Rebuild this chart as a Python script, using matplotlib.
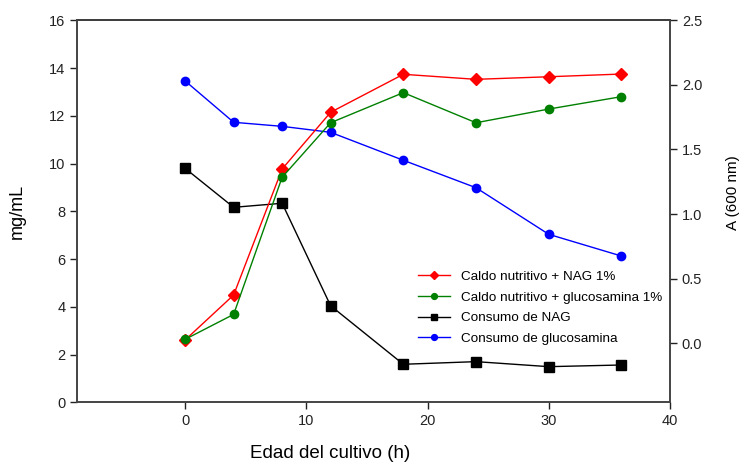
import numpy as np
import matplotlib
matplotlib.use("Agg")
import matplotlib.pyplot as plt

plt.rcParams['font.family'] = ['Liberation Sans', 'DejaVu Sans']

# tiempo de cultivo (h)
horas = [0, 4, 8, 12, 18, 24, 30, 36]

# crecimiento, A (600 nm) - eje derecho
nag_abs = [0.026, 0.374, 1.349, 1.788, 2.082, 2.043, 2.063, 2.084]
gluc_abs = [0.031, 0.224, 1.285, 1.707, 1.940, 1.707, 1.813, 1.909]

# consumo, mg/mL - eje izquierdo
consumo_nag = [9.80, 8.17, 8.34, 4.05, 1.60, 1.71, 1.50, 1.57]
consumo_gluc = [13.46, 11.73, 11.56, 11.31, 10.14, 8.99, 7.04, 6.13]

etiquetas = ["Caldo nutritivo + NAG 1%", "Caldo nutritivo + glucosamina 1%",
             "Consumo de NAG", "Consumo de glucosamina"]

fig = plt.figure(figsize=(7.44, 4.62), dpi=100)
ax = fig.add_axes([0.1039, 0.1288, 0.7966, 0.8273])
ax2 = ax.twinx()

l3, = ax.plot(horas, consumo_nag, color="black", lw=1, marker="s", ms=7)
l4, = ax.plot(horas, consumo_gluc, color="blue", lw=1, marker="o", ms=6)
l1, = ax2.plot(horas, nag_abs, color="red", lw=1, marker="D", ms=6)
l2, = ax2.plot(horas, gluc_abs, color="green", lw=1, marker="o", ms=6)

ax.set_xlim(-8.9, 40)
ax.set_ylim(0, 16)
ax2.set_ylim(-0.458, 2.5)
ax.set_xticks([0, 10, 20, 30, 40])
ax.set_yticks(np.arange(0, 17, 2))
ax2.set_yticks([0.0, 0.5, 1.0, 1.5, 2.0, 2.5])
ax2.set_yticklabels(["0.0", "0.5", "1.0", "1.5", "2.0", "2.5"])

for a in (ax, ax2):
    a.tick_params(direction="out", length=5, width=1, labelsize=10.5, colors="#222222")
    for s in a.spines.values():
        s.set_color("#444444")
        s.set_linewidth(1.2)
ax.spines["top"].set_color("black")

ax.set_xlabel("Edad del cultivo (h)", fontsize=13.5, labelpad=12, x=0.427)
ax.set_ylabel("mg/mL", fontsize=13, labelpad=17)
ax2.set_ylabel("A (600 nm)", fontsize=11, labelpad=17, y=0.55)

leg = ax2.legend([l1, l2, l3, l4], etiquetas, loc="upper left",
                 bbox_to_anchor=(0.565, 0.36), frameon=False, fontsize=9.7,
                 markerscale=0.7, handlelength=2.4, handletextpad=0.8,
                 labelspacing=0.62, borderaxespad=0)

fig.savefig("out.png", dpi=100)
